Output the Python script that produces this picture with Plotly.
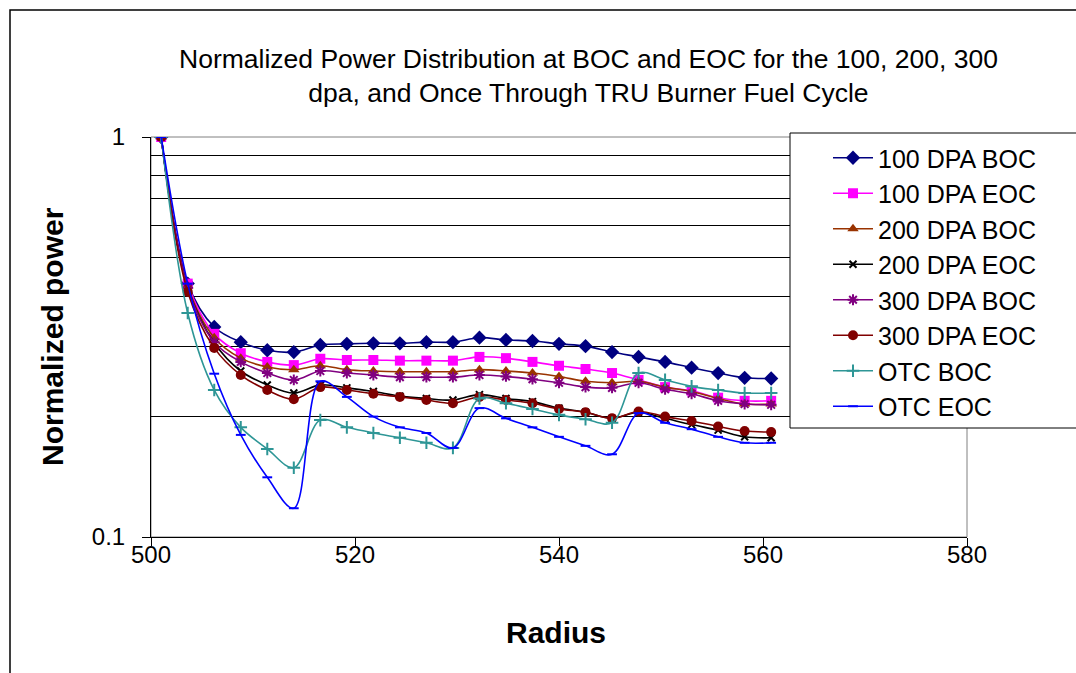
import plotly.graph_objects as go

radius = [501.0, 503.6, 506.2, 508.8, 511.4, 514.0, 516.6, 519.2, 521.8, 524.4, 527.0, 529.6,
          532.2, 534.8, 537.4, 540.0, 542.6, 545.2, 547.8, 550.4, 553.0, 555.6, 558.2, 560.8]

dpa100_boc = [1.0, 0.43, 0.335, 0.307, 0.293, 0.29, 0.302, 0.304, 0.305, 0.305, 0.307, 0.307,
              0.315, 0.311, 0.309, 0.304, 0.30, 0.29, 0.282, 0.274, 0.265, 0.257, 0.25, 0.249]
dpa100_eoc = [1.0, 0.43, 0.322, 0.288, 0.274, 0.269, 0.279, 0.277, 0.277, 0.276, 0.276, 0.276,
              0.282, 0.28, 0.274, 0.268, 0.263, 0.257, 0.247, 0.237, 0.232, 0.223, 0.219, 0.219]
dpa200_boc = [1.0, 0.425, 0.315, 0.28, 0.266, 0.262, 0.268, 0.262, 0.26, 0.259, 0.259, 0.259,
              0.262, 0.26, 0.257, 0.252, 0.245, 0.243, 0.245, 0.237, 0.231, 0.222, 0.215, 0.215]
dpa200_eoc = [1.0, 0.42, 0.306, 0.26, 0.24, 0.229, 0.24, 0.236, 0.231, 0.225, 0.222, 0.22,
              0.227, 0.222, 0.218, 0.21, 0.205, 0.198, 0.205, 0.198, 0.191, 0.185, 0.178, 0.177]
dpa300_boc = [1.0, 0.42, 0.307, 0.274, 0.257, 0.247, 0.26, 0.257, 0.254, 0.251, 0.251, 0.251,
              0.254, 0.252, 0.248, 0.243, 0.237, 0.236, 0.243, 0.234, 0.228, 0.219, 0.215, 0.214]
dpa300_eoc = [1.0, 0.41, 0.297, 0.254, 0.233, 0.221, 0.237, 0.233, 0.228, 0.224, 0.22, 0.216,
              0.224, 0.22, 0.216, 0.209, 0.205, 0.198, 0.206, 0.20, 0.195, 0.189, 0.184, 0.183]
otc_boc = [1.0, 0.363, 0.233, 0.188, 0.166, 0.149, 0.196, 0.188, 0.182, 0.177, 0.172, 0.167,
           0.222, 0.216, 0.209, 0.202, 0.197, 0.193, 0.257, 0.247, 0.238, 0.233, 0.229, 0.229]
otc_eoc = [1.0, 0.43, 0.256, 0.18, 0.141, 0.118, 0.245, 0.224, 0.20, 0.188, 0.182, 0.167,
           0.21, 0.198, 0.188, 0.178, 0.169, 0.161, 0.204, 0.193, 0.186, 0.178, 0.172, 0.172]

series_names = ["100 DPA BOC", "100 DPA EOC", "200 DPA BOC", "200 DPA EOC",
                "300 DPA BOC", "300 DPA EOC", "OTC BOC", "OTC EOC"]
series_values = [dpa100_boc, dpa100_eoc, dpa200_boc, dpa200_eoc,
                 dpa300_boc, dpa300_eoc, otc_boc, otc_eoc]
colors = ["#000080", "#FF00FF", "#993300", "#000000", "#800080", "#800000", "#2E9696", "#0000FF"]
symbols = ["diamond", "square", "triangle-up", "x-thin-open", "asterisk-open",
           "circle", "cross-thin-open", "line-ew-open"]
sizes = [11, 10, 10, 7, 9, 10, 9, 7]

FONT = "Arial, Liberation Sans, sans-serif"

fig = go.Figure()
for i, (name, vals) in enumerate(zip(series_names, series_values)):
    c = colors[i]
    open_sym = symbols[i].endswith("open")
    fig.add_trace(go.Scatter(
        x=radius, y=vals, name=name, mode="lines+markers",
        legendgroup="g%d" % i,
        line=dict(color=c, width=1.6, shape="spline", smoothing=1.0),
        marker=dict(symbol=symbols[i], size=sizes[i], color=c,
                    line=dict(color=c, width=2 if open_sym else 0)),
    ))

X0, X1, Y0, Y1 = 151, 967, 137, 537
W, H = 1076, 673
def px(x):
    return (x - X0) / (X1 - X0)
def py(y):
    return (Y1 - y) / (Y1 - Y0)

fig.update_layout(
    width=W, height=H, autosize=False,
    margin=dict(l=X0, r=W - X1, t=Y0, b=H - Y1, pad=0),
    paper_bgcolor="white", plot_bgcolor="white",
    font=dict(family=FONT, color="black"),
    showlegend=True,
    legend=dict(x=px(828), y=py(135), xanchor="left", yanchor="top",
                bgcolor="rgba(0,0,0,0)", borderwidth=0,
                font=dict(family=FONT, size=25, color="black"),
                itemwidth=40, tracegroupgap=0),
    xaxis=dict(range=[500, 580], tickvals=[500, 520, 540, 560, 580],
               ticks="outside", ticklen=8, tickcolor="black", tickwidth=1,
               ticklabelstandoff=-12,
               showline=True, linecolor="black", linewidth=1,
               showgrid=False, zeroline=False,
               tickfont=dict(family=FONT, size=24, color="black")),
    yaxis=dict(type="log", range=[-1, 0], tickvals=[0.1, 1], ticktext=["0.1", "1"],
               ticks="outside", ticklen=8, tickcolor="black", tickwidth=1,
               ticklabelstandoff=12,
               showline=True, linecolor="black", linewidth=1,
               showgrid=True, gridcolor="#808080", gridwidth=1, zeroline=False,
               tickfont=dict(family=FONT, size=24, color="black"),
               minor=dict(tickmode="array", tickvals=[0.2, 0.3, 0.4, 0.5, 0.6, 0.7, 0.8, 0.9],
                          showgrid=True, gridcolor="black", gridwidth=1, ticks="")),
    shapes=[
        dict(type="rect", xref="paper", yref="paper", x0=0, x1=1, y0=0, y1=1,
             line=dict(color="#808080", width=1), layer="below"),
        dict(type="rect", xref="paper", yref="paper", x0=px(10), x1=px(1085),
             y0=py(685), y1=py(10), line=dict(color="black", width=1.5), layer="above"),
        dict(type="rect", xref="paper", yref="paper", x0=px(790), x1=px(1085),
             y0=py(428), y1=py(133), fillcolor="white",
             line=dict(color="black", width=1), layer="above"),
    ],
    annotations=[
        dict(text="Normalized Power Distribution at BOC and EOC for the 100, 200, 300<br>"
                  "dpa, and Once Through TRU Burner Fuel Cycle",
             xref="paper", yref="paper", x=px(588), y=py(76), xanchor="center", yanchor="middle",
             showarrow=False, font=dict(family=FONT, size=26.5, color="black")),
        dict(text="<b>Radius</b>", xref="paper", yref="paper", x=px(556), y=py(632),
             xanchor="center", yanchor="middle", showarrow=False,
             font=dict(family=FONT, size=30, color="black")),
        dict(text="<b>Normalized power</b>", xref="paper", yref="paper", x=px(52), y=py(337),
             xanchor="center", yanchor="middle", showarrow=False, textangle=-90,
             font=dict(family=FONT, size=30, color="black")),
    ],
)

fig.write_html("out.html")
